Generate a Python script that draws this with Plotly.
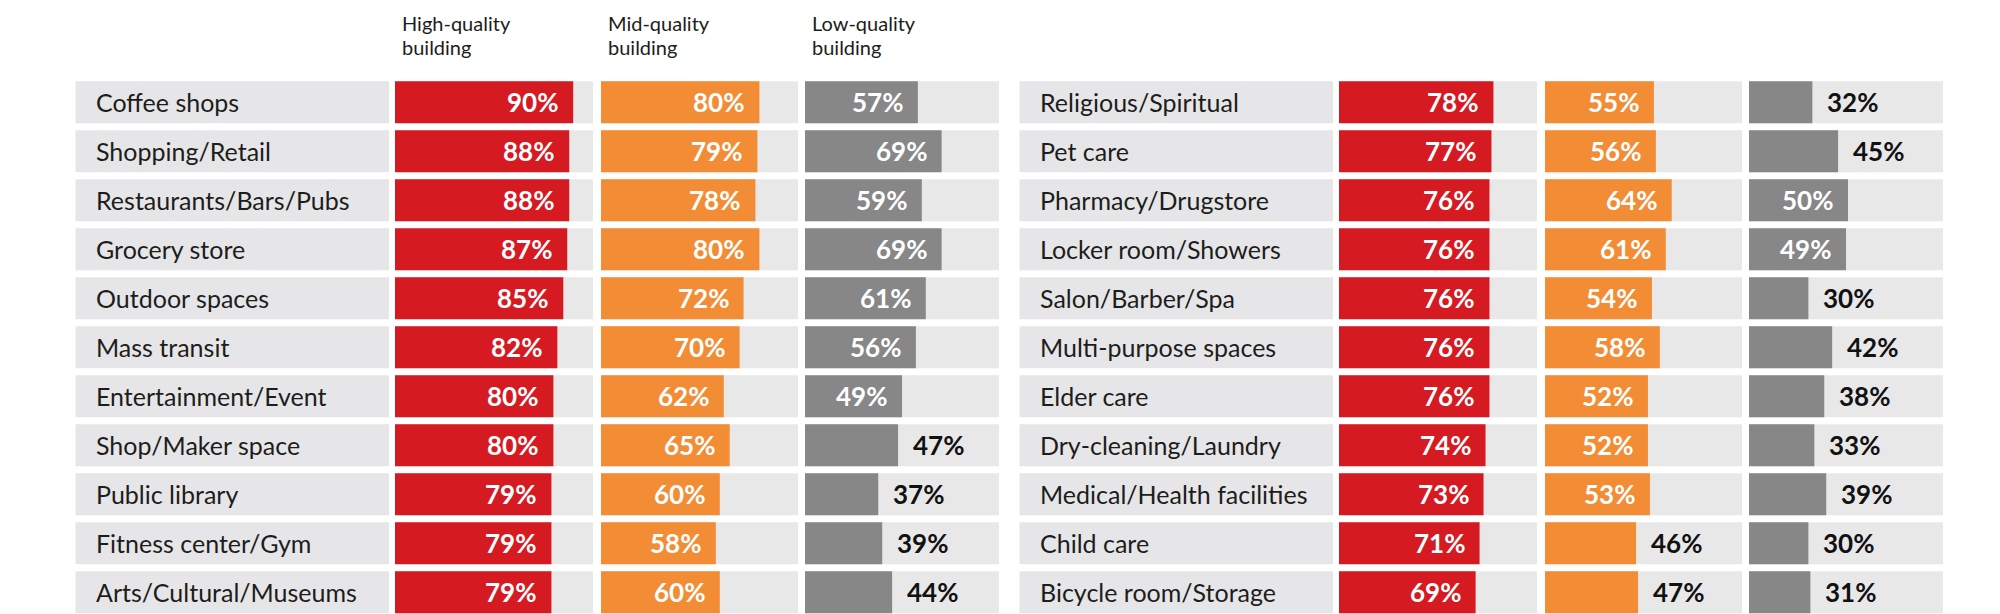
import plotly.graph_objects as go

# ---------------- data ----------------
left_categories = ["Coffee shops", "Shopping/Retail", "Restaurants/Bars/Pubs", "Grocery store",
                   "Outdoor spaces", "Mass transit", "Entertainment/Event", "Shop/Maker space",
                   "Public library", "Fitness center/Gym", "Arts/Cultural/Museums"]
left_high = [90, 88, 88, 87, 85, 82, 80, 80, 79, 79, 79]
left_mid = [80, 79, 78, 80, 72, 70, 62, 65, 60, 58, 60]
left_low = [57, 69, 59, 69, 61, 56, 49, 47, 37, 39, 44]

right_categories = ["Religious/Spiritual", "Pet care", "Pharmacy/Drugstore", "Locker room/Showers",
                    "Salon/Barber/Spa", "Multi-purpose spaces", "Elder care", "Dry-cleaning/Laundry",
                    "Medical/Health facilities", "Child care", "Bicycle room/Storage"]
right_high = [78, 77, 76, 76, 76, 76, 76, 74, 73, 71, 69]
right_mid = [55, 56, 64, 61, 54, 58, 52, 52, 53, 46, 47]
right_low = [32, 45, 50, 49, 30, 42, 38, 33, 39, 30, 31]

series_headers = [["High-quality", "building"], ["Mid-quality", "building"], ["Low-quality", "building"]]

# ---------------- style / geometry ----------------
W, H = 2000, 614
PX_PER_PCT = 1.98
panel_offsets = [0, 944]
label_bg = (67.5, 381)
tracks = [(387, 585), (593, 790), (797, 991)]
colors = ["#D51A21", "#F28D36", "#878787"]
track_color = "#E8E8E9"
label_bg_color = "#E6E6E8"
text_dark = "#1d1d1b"
FONT = "Lato"
INSIDE_MIN = 48

row_top0 = 73.3
pitch = 49.0
bar_h = 42.0
n = len(left_categories)
dom_top = row_top0 - (pitch - bar_h) / 2
dom_bot = dom_top + n * pitch
ydom = [1 - dom_bot / H, 1 - dom_top / H]
half = bar_h / pitch / 2

panels = [
    (left_categories, [left_high, left_mid, left_low]),
    (right_categories, [right_high, right_mid, right_low]),
]

fig = go.Figure()
layout = dict(
    width=W, height=H, margin=dict(l=0, r=0, t=0, b=0),
    paper_bgcolor="white", plot_bgcolor="rgba(0,0,0,0)",
    showlegend=False, barmode="overlay",
)
shapes = []
annotations = []

for p, (cats, series) in enumerate(panels):
    off = panel_offsets[p]
    yname = "y" if p == 0 else "y2"
    ykey = "yaxis" if p == 0 else "yaxis2"
    layout[ykey] = dict(
        domain=ydom, type="category", categoryarray=cats, categoryorder="array",
        range=[n - 0.5, -0.5], showticklabels=False, showgrid=False, zeroline=False,
        showline=False, ticks="", anchor="x" if p == 0 else "x4", fixedrange=True,
    )
    # label background + category text
    for i, c in enumerate(cats):
        shapes.append(dict(type="rect", xref="paper", yref=yname,
                           x0=(label_bg[0] + off) / W, x1=(label_bg[1] + off) / W,
                           y0=i - half, y1=i + half, fillcolor=label_bg_color,
                           line=dict(width=0), layer="below"))
        annotations.append(dict(xref="paper", yref=yname, x=(label_bg[0] + 18 + off) / W, y=c,
                                text=c, showarrow=False, xanchor="left", yanchor="middle",
                                font=dict(family=FONT, size=25, color=text_dark)))
    for s, vals in enumerate(series):
        k = p * 3 + s + 1
        xname = "x" if k == 1 else f"x{k}"
        xkey = "xaxis" if k == 1 else f"xaxis{k}"
        x0, x1 = tracks[s]
        layout[xkey] = dict(
            domain=[(x0 + off) / W, (x1 + off) / W], range=[0, (x1 - x0) / PX_PER_PCT],
            visible=False, anchor=yname, fixedrange=True,
        )
        for i in range(n):
            shapes.append(dict(type="rect", xref=f"{xname} domain", yref=yname,
                               x0=0, x1=1, y0=i - half, y1=i + half,
                               fillcolor=track_color, line=dict(width=0), layer="below"))
        fig.add_trace(go.Bar(
            x=vals, y=cats, orientation="h", xaxis=xname, yaxis=yname,
            marker=dict(color=colors[s], line=dict(width=0)), width=bar_h / pitch,
            hoverinfo="x+y",
        ))
        for c, v in zip(cats, vals):
            inside = v >= INSIDE_MIN
            annotations.append(dict(
                xref=xname, yref=yname, x=v, y=c, text=f"<b>{v}%</b>", showarrow=False,
                xanchor="right" if inside else "left", yanchor="middle",
                xshift=-13 if inside else 13,
                font=dict(family=FONT, size=26, color="white" if inside else "#111111"),
            ))
        if p == 0:
            for li, line in enumerate(series_headers[s]):
                annotations.append(dict(
                    xref="paper", yref="paper", x=(x0 + 6) / W, y=1 - (15 + li * 24) / H,
                    text=line, showarrow=False, xanchor="left", yanchor="middle",
                    borderpad=0,
                    font=dict(family=FONT, size=20, color=text_dark),
                ))

layout["shapes"] = shapes
layout["annotations"] = annotations
fig.update_layout(**layout)
fig.write_html("out.html")
